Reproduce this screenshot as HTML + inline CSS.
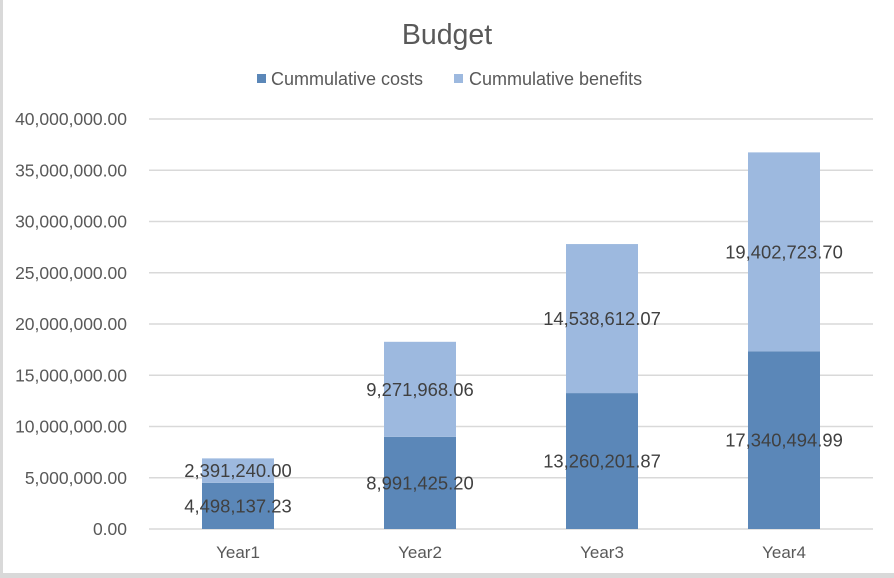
<!DOCTYPE html>
<html><head><style>
body{margin:0;background:#fff;}
svg{display:block;font-family:"Liberation Sans",sans-serif;}
</style></head><body>
<svg id="chart" width="894" height="578">
<rect x="0" y="0" width="894" height="578" fill="#fff"/>
<rect x="0" y="573" width="894" height="5" fill="#d9d9d9"/>
<rect x="0" y="0" width="3" height="578" fill="#d9d9d9"/>
<text x="447" y="44" text-anchor="middle" font-size="28.5" fill="#595959">Budget</text>
<g>
<rect x="257" y="74" width="9" height="9" fill="#5b87b8"/>
<text x="271" y="85" font-size="18" fill="#595959">Cummulative costs</text>
<rect x="454" y="74" width="9" height="9" fill="#9db9df"/>
<text x="469" y="85" font-size="18" fill="#595959">Cummulative benefits</text>
</g>
<g id="grid"></g><g id="bars"></g><g id="labels"></g>
</svg>
<script>
const categories=["Year1","Year2","Year3","Year4"];
const costs=[4498137.23,8991425.20,13260201.87,17340494.99];
const benefits=[2391240.00,9271968.06,14538612.07,19402723.70];
const yTicks=[0,5000000,10000000,15000000,20000000,25000000,30000000,35000000,40000000];
const NS="http://www.w3.org/2000/svg";
const L=147,R=875,T=119,B=529,yMax=40000000;
const y=v=>B-(v/yMax)*(B-T);
const bw=(R-L)/categories.length;
const xc=i=>L+bw*(i+0.5);
const fmt=v=>v.toLocaleString("en-US",{minimumFractionDigits:2,maximumFractionDigits:2});
function mk(tag,attrs,parent,txt){const e=document.createElementNS(NS,tag);for(const k in attrs)e.setAttribute(k,attrs[k]);if(txt!==undefined)e.textContent=txt;parent.appendChild(e);return e;}
const g=document.getElementById("grid"),bars=document.getElementById("bars"),lab=document.getElementById("labels");
yTicks.forEach(t=>{
 const ln=mk("line",{x1:L+2,x2:R-2,y1:y(t),y2:y(t),stroke:"#d9d9d9","stroke-width":1.5},g);
 
 
 const tx=mk("text",{x:127,y:y(t)+6,"text-anchor":"end","font-size":17.5,fill:"#595959"},g,fmt(t));
 
 
});
categories.forEach((c,i)=>{
 const w=72,x=xc(i)-w/2;
 const r1=mk("rect",{x:x,y:y(costs[i]),width:w,height:B-y(costs[i]),fill:"#5b87b8"},bars);
 
 
 const top=costs[i]+benefits[i];
 const r2=mk("rect",{x:x,y:y(top),width:w,height:y(costs[i])-y(top),fill:"#9db9df"},bars);
 
 
 const l1=mk("text",{x:xc(i),y:(y(costs[i])+B)/2+6.5,"text-anchor":"middle","font-size":18.4,fill:"#404040"},lab,fmt(costs[i]));
 
 
 const l2=mk("text",{x:xc(i),y:(y(top)+y(costs[i]))/2+6.5,"text-anchor":"middle","font-size":18.4,fill:"#404040"},lab,fmt(benefits[i]));
 
 
 const xl=mk("text",{x:xc(i),y:558,"text-anchor":"middle","font-size":17,fill:"#595959"},lab,c);
 
 
});
</script>
</body></html>
